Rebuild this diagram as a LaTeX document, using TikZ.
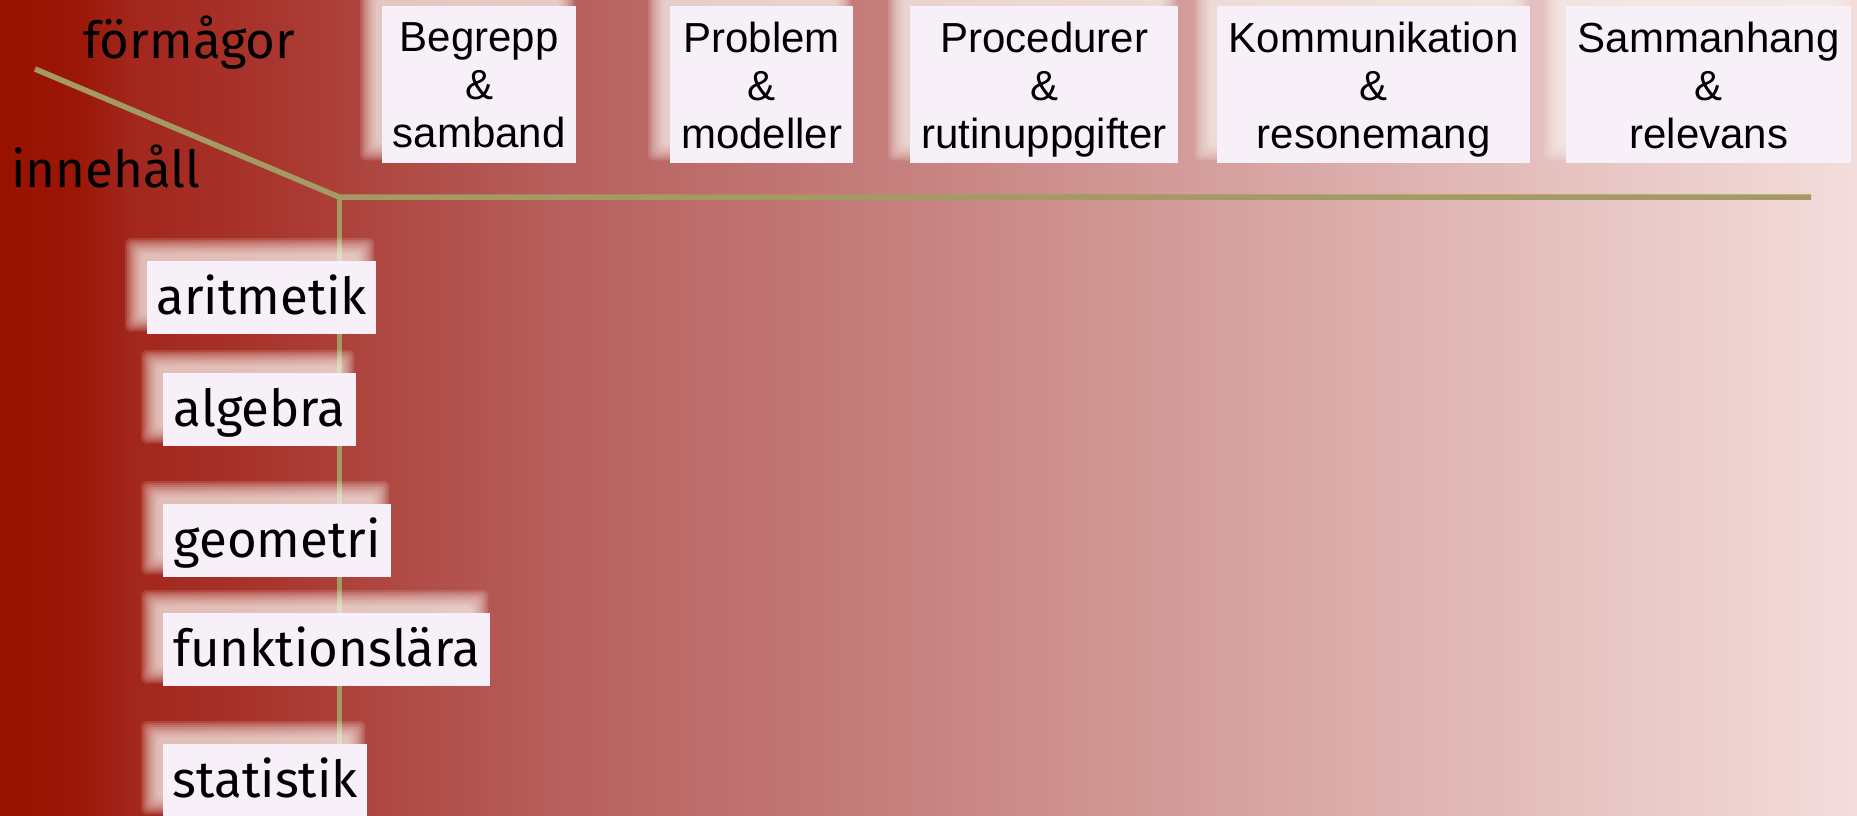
\documentclass[tikz,border=0pt]{standalone}
\usepackage{fontspec}
\newfontfamily\arialf{Liberation Sans}
\newfontfamily\lucf{Fira Sans}
\pgfdeclarelayer{bg}
\pgfdeclarelayer{glow}
\pgfsetlayers{bg,glow,main}
\definecolor{s0}{RGB}{152,18,0}
\definecolor{s1}{RGB}{155,22,6}
\definecolor{s2}{RGB}{162,38,28}
\definecolor{s3}{RGB}{168,52,44}
\definecolor{s4}{RGB}{174,70,64}
\definecolor{s5}{RGB}{183,95,92}
\definecolor{s6}{RGB}{199,131,129}
\definecolor{s7}{RGB}{217,168,166}
\definecolor{s8}{RGB}{230,195,193}
\definecolor{s9}{RGB}{243,221,220}
\definecolor{boxc}{RGB}{247,240,249}
\definecolor{glowc}{RGB}{250,244,238}
\definecolor{linec}{RGB}{164,154,100}
\pgfdeclarehorizontalshading{bgshade}{100bp}{color(0bp)=(s0); color(25bp)=(s0); color(27bp)=(s1); color(28.5bp)=(s2); color(32bp)=(s3); color(35bp)=(s4); color(40bp)=(s5); color(50bp)=(s6); color(60bp)=(s7); color(67.5bp)=(s8); color(75bp)=(s9); color(100bp)=(s9)}
\newcommand{\glowof}[1]{%
  \foreach \ax/\ay/\bx/\by in {-22/-23/-2/-3, -20/-21/-4/-5, -18/-19/-6/-7, -16/-17/-8/-9, -14/-15/-10/-11, -12/-13/-12/-13, -10/-11/-14/-15, -8/-9/-16/-17, -6/-7/-18/-19}{%
    \fill[glowc, fill opacity=0.14, rounded corners=6pt] ([shift={(\ax,\ay)}]#1.north west) rectangle ([shift={(\bx,\by)}]#1.south east);
  }%
}
\begin{document}
\begin{tikzpicture}[x=1pt,y=-1pt,
  axisline/.style={draw=linec, line width=5.5pt},
  tbox/.style={fill=boxc, inner sep=0pt, anchor=north west, minimum height=157},
  tlbl/.style={anchor=north, align=center, inner sep=0pt, text=black, font=\arialf\fontsize{42pt}{48pt}\selectfont},
  lbox/.style={fill=boxc, inner sep=0pt, anchor=north west, minimum height=73, text=black, font=\lucf\fontsize{51pt}{60pt}\selectfont, text height=40pt, text depth=7pt},
  axlbl/.style={anchor=base west, inner sep=0pt, text=black, font=\lucf\fontsize{51pt}{60pt}\selectfont}]
\useasboundingbox (0,0) rectangle (1857,816);
\begin{pgfonlayer}{bg}
  \shade[shading=bgshade] (0,0) rectangle (1857,816);
  \coordinate (dstart) at (35,69);
  \coordinate (corner) at (339,197);
  \coordinate (hend) at (1811,197);
  \coordinate (vend) at (339,820);
  \draw[axisline] (dstart) -- (corner) -- (hend);
  \draw[axisline, line width=5pt] (corner) -- (vend);
\end{pgfonlayer}

\node[axlbl] (form) at (83,59) {förmågor};
\node[axlbl] (inne) at (11,187) {innehåll};

\node[tbox, minimum width=194] (b1) at (382,6) {};
\node[tbox, minimum width=183] (b2) at (670,6) {};
\node[tbox, minimum width=268] (b3) at (910,6) {};
\node[tbox, minimum width=313] (b4) at (1217,6) {};
\node[tbox, minimum width=285] (b5) at (1566,6) {};
\node[tlbl] (b1t) at ([yshift=-16pt]b1.north) {Begrepp\\\&\\samband};
\node[tlbl] (b2t) at ([yshift=-16pt]b2.north) {Problem\\\&\\modeller};
\node[tlbl] (b3t) at ([yshift=-16pt]b3.north) {Procedurer\\\&\\rutinuppgifter};
\node[tlbl] (b4t) at ([yshift=-16pt]b4.north) {Kommunikation\\\&\\resonemang};
\node[tlbl] (b5t) at ([yshift=-16pt]b5.north) {Sammanhang\\\&\\relevans};

\node[lbox, minimum width=229] (l1) at (147,261) {aritmetik};
\node[lbox, minimum width=193] (l2) at (163,373) {algebra};
\node[lbox, minimum width=228] (l3) at (163,504) {geometri};
\node[lbox, minimum width=327] (l4) at (163,613) {funktionslära};
\node[lbox, minimum width=204] (l5) at (163,744) {statistik};

\begin{pgfonlayer}{glow}
  \glowof{b1}\glowof{b2}\glowof{b3}\glowof{b4}\glowof{b5}
  \glowof{l1}\glowof{l2}\glowof{l3}\glowof{l4}\glowof{l5}
\end{pgfonlayer}
\end{tikzpicture}
\end{document}
